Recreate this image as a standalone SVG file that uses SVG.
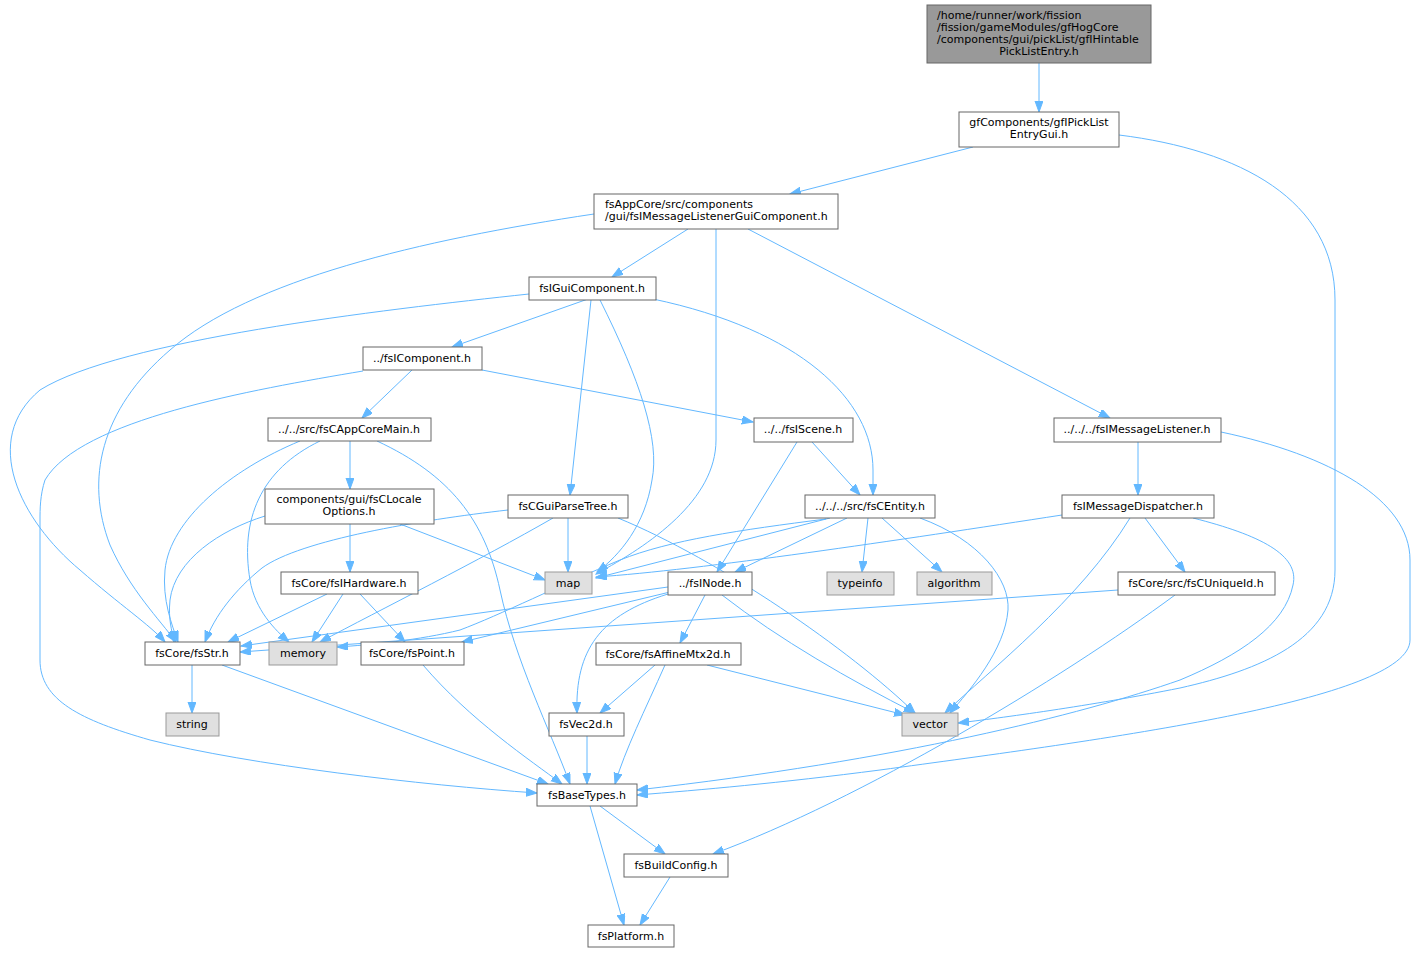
<svg xmlns="http://www.w3.org/2000/svg" width="1419" height="953" viewBox="0 0 1419 953">
<style>
.n rect{fill:#ffffff;stroke:#666666;stroke-width:1}
.g rect{fill:#e0e0e0;stroke:#999999;stroke-width:1}
.r rect{fill:#999999;stroke:#666666;stroke-width:1}
text{font-family:"DejaVu Sans","Liberation Sans",sans-serif;font-size:11px;fill:#000000}
.c{text-anchor:middle}
#edges path{fill:none;stroke:#63b8ff;stroke-width:1;marker-end:url(#a)}
</style>
<defs>
<marker id="a" markerWidth="12" markerHeight="9" refX="11" refY="4" orient="auto" markerUnits="userSpaceOnUse">
<path d="M0,0 L11,4 L0,8 z" fill="#63b8ff" stroke="#63b8ff" stroke-width="1"/>
</marker>
</defs>
<rect width="1419" height="953" fill="#ffffff"/>
<g id="edges">
<path d="M1039,63 L1039,112"/>
<path d="M973,147 L790,194"/>
<path d="M1119,135 C1240,150 1335,200 1335,300 L1335,570 C1335,640 1260,670 1180,688 C1090,706 1000,718 958,723"/>
<path d="M688,229 L612,277"/>
<path d="M594,214 C420,240 250,280 170,350 C100,410 85,480 110,545 C130,590 160,620 176,642"/>
<path d="M716,229 L716,440 C716,500 650,545 596,574"/>
<path d="M748,229 L1110,418"/>
<path d="M588,299 L452,347"/>
<path d="M529,294 C380,310 120,340 40,390 C-20,440 20,520 80,570 C120,605 150,625 165,642"/>
<path d="M591,300 L570,495"/>
<path d="M600,300 C640,380 660,440 652,480 C645,525 620,555 597,572"/>
<path d="M653,299 C800,330 873,400 873,470 L873,495"/>
<path d="M412,370 L362,418"/>
<path d="M363,371 C250,390 80,420 45,480 C40,495 40,510 40,520 L40,660 C40,700 80,720 150,740 C250,765 420,785 537,793"/>
<path d="M482,370 L753,422"/>
<path d="M350,441 L350,489"/>
<path d="M300,441 C230,470 170,520 165,570 C162,600 172,625 178,642"/>
<path d="M320,441 C260,470 240,520 250,580 C255,610 275,630 289,642"/>
<path d="M377,441 C450,475 485,520 500,590 C515,660 550,730 570,784"/>
<path d="M350,524 L350,572"/>
<path d="M265,516 C220,530 175,560 170,600 C168,620 172,630 174,642"/>
<path d="M400,524 L545,580"/>
<path d="M568,518 L568,572"/>
<path d="M508,510 C420,520 300,540 262,568 C235,590 215,615 205,642"/>
<path d="M553,518 C480,560 380,610 320,642"/>
<path d="M618,518 C720,560 850,650 915,713"/>
<path d="M812,442 L860,495"/>
<path d="M797,442 L717,572"/>
<path d="M830,518 L596,578"/>
<path d="M826,519 C740,530 670,540 620,560 C560,585 500,615 460,630 C420,640 370,645 337,647"/>
<path d="M847,518 L735,572"/>
<path d="M868,518 L862,572"/>
<path d="M882,518 L942,572"/>
<path d="M920,518 C980,540 1010,580 1008,610 C1005,650 970,690 950,713"/>
<path d="M1138,442 L1138,495"/>
<path d="M1221,432 C1330,455 1410,500 1410,560 L1410,640 C1410,700 1100,740 880,770 C780,783 700,790 637,795"/>
<path d="M1062,515 C900,540 700,570 596,577"/>
<path d="M1130,518 C1080,600 990,670 945,713"/>
<path d="M1145,518 L1185,572"/>
<path d="M1193,518 C1260,535 1300,555 1293,585 C1285,625 1240,655 1180,680 C1080,715 900,760 637,790"/>
<path d="M1118,590 L240,652"/>
<path d="M1175,595 C1060,680 860,800 713,854"/>
<path d="M668,587 L241,646"/>
<path d="M670,592 L462,642"/>
<path d="M705,595 L680,643"/>
<path d="M668,594 C600,615 575,650 577,713"/>
<path d="M722,595 C780,640 850,680 915,713"/>
<path d="M327,594 L228,642"/>
<path d="M343,594 L312,642"/>
<path d="M360,594 L405,642"/>
<path d="M192,665 L192,713"/>
<path d="M222,665 L548,784"/>
<path d="M423,665 C470,720 530,760 562,784"/>
<path d="M655,665 L600,713"/>
<path d="M665,665 C645,710 625,750 615,784"/>
<path d="M707,665 L905,715"/>
<path d="M587,736 L587,784"/>
<path d="M600,806 L665,854"/>
<path d="M590,806 L624,925"/>
<path d="M670,877 L640,925"/>
</g>
<g id="root" class="r"><rect x="927" y="5" width="224" height="58"/>
<text x="937" y="19">/home/runner/work/fission</text>
<text x="937" y="31">/fission/gameModules/gfHogCore</text>
<text x="937" y="43">/components/gui/pickList/gfIHintable</text>
<text x="1039" y="55" class="c">PickListEntry.h</text></g>
<g id="gfIPickListEntryGui" class="n"><rect x="959" y="112" width="160" height="35"/>
<text x="1039" y="126" class="c">gfComponents/gfIPickList</text>
<text x="1039" y="138" class="c">EntryGui.h</text></g>
<g id="fsIMessageListenerGuiComponent" class="n"><rect x="594" y="194" width="244" height="35"/>
<text x="605" y="208">fsAppCore/src/components</text>
<text x="605" y="220">/gui/fsIMessageListenerGuiComponent.h</text></g>
<g id="fsIGuiComponent" class="n"><rect x="529" y="277" width="127" height="23"/>
<text x="592" y="292" class="c">fsIGuiComponent.h</text></g>
<g id="fsIComponent" class="n"><rect x="363" y="347" width="119" height="23"/>
<text x="422" y="362" class="c">../fsIComponent.h</text></g>
<g id="fsIScene" class="n"><rect x="754" y="418" width="99" height="24"/>
<text x="803" y="433" class="c">../../fsIScene.h</text></g>
<g id="fsIMessageListener" class="n"><rect x="1054" y="418" width="167" height="24"/>
<text x="1137" y="433" class="c">../../../fsIMessageListener.h</text></g>
<g id="fsCAppCoreMain" class="n"><rect x="268" y="418" width="163" height="23"/>
<text x="349" y="433" class="c">../../src/fsCAppCoreMain.h</text></g>
<g id="fsCLocaleOptions" class="n"><rect x="265" y="489" width="169" height="35"/>
<text x="349" y="503" class="c">components/gui/fsCLocale</text>
<text x="349" y="515" class="c">Options.h</text></g>
<g id="fsCGuiParseTree" class="n"><rect x="508" y="495" width="120" height="23"/>
<text x="568" y="510" class="c">fsCGuiParseTree.h</text></g>
<g id="fsCEntity" class="n"><rect x="805" y="495" width="130" height="23"/>
<text x="870" y="510" class="c">../../../src/fsCEntity.h</text></g>
<g id="fsIMessageDispatcher" class="n"><rect x="1062" y="495" width="152" height="23"/>
<text x="1138" y="510" class="c">fsIMessageDispatcher.h</text></g>
<g id="map" class="g"><rect x="545" y="572" width="47" height="22"/>
<text x="568" y="587" class="c">map</text></g>
<g id="fsINode" class="n"><rect x="668" y="572" width="84" height="23"/>
<text x="710" y="587" class="c">../fsINode.h</text></g>
<g id="typeinfo" class="g"><rect x="827" y="572" width="67" height="23"/>
<text x="860" y="587" class="c">typeinfo</text></g>
<g id="algorithm" class="g"><rect x="917" y="572" width="75" height="23"/>
<text x="954" y="587" class="c">algorithm</text></g>
<g id="fsCUniqueId" class="n"><rect x="1118" y="572" width="157" height="23"/>
<text x="1196" y="587" class="c">fsCore/src/fsCUniqueId.h</text></g>
<g id="fsIHardware" class="n"><rect x="281" y="572" width="137" height="22"/>
<text x="349" y="587" class="c">fsCore/fsIHardware.h</text></g>
<g id="fsStr" class="n"><rect x="145" y="642" width="95" height="23"/>
<text x="192" y="657" class="c">fsCore/fsStr.h</text></g>
<g id="memory" class="g"><rect x="269" y="642" width="68" height="23"/>
<text x="303" y="657" class="c">memory</text></g>
<g id="fsPoint" class="n"><rect x="361" y="642" width="103" height="23"/>
<text x="412" y="657" class="c">fsCore/fsPoint.h</text></g>
<g id="fsAffineMtx2d" class="n"><rect x="596" y="643" width="145" height="22"/>
<text x="668" y="658" class="c">fsCore/fsAffineMtx2d.h</text></g>
<g id="fsVec2d" class="n"><rect x="549" y="713" width="75" height="23"/>
<text x="586" y="728" class="c">fsVec2d.h</text></g>
<g id="vector" class="g"><rect x="902" y="713" width="56" height="23"/>
<text x="930" y="728" class="c">vector</text></g>
<g id="string" class="g"><rect x="166" y="713" width="53" height="23"/>
<text x="192" y="728" class="c">string</text></g>
<g id="fsBaseTypes" class="n"><rect x="537" y="784" width="100" height="22"/>
<text x="587" y="799" class="c">fsBaseTypes.h</text></g>
<g id="fsBuildConfig" class="n"><rect x="624" y="854" width="104" height="23"/>
<text x="676" y="869" class="c">fsBuildConfig.h</text></g>
<g id="fsPlatform" class="n"><rect x="588" y="925" width="86" height="22"/>
<text x="631" y="940" class="c">fsPlatform.h</text></g>
</svg>
